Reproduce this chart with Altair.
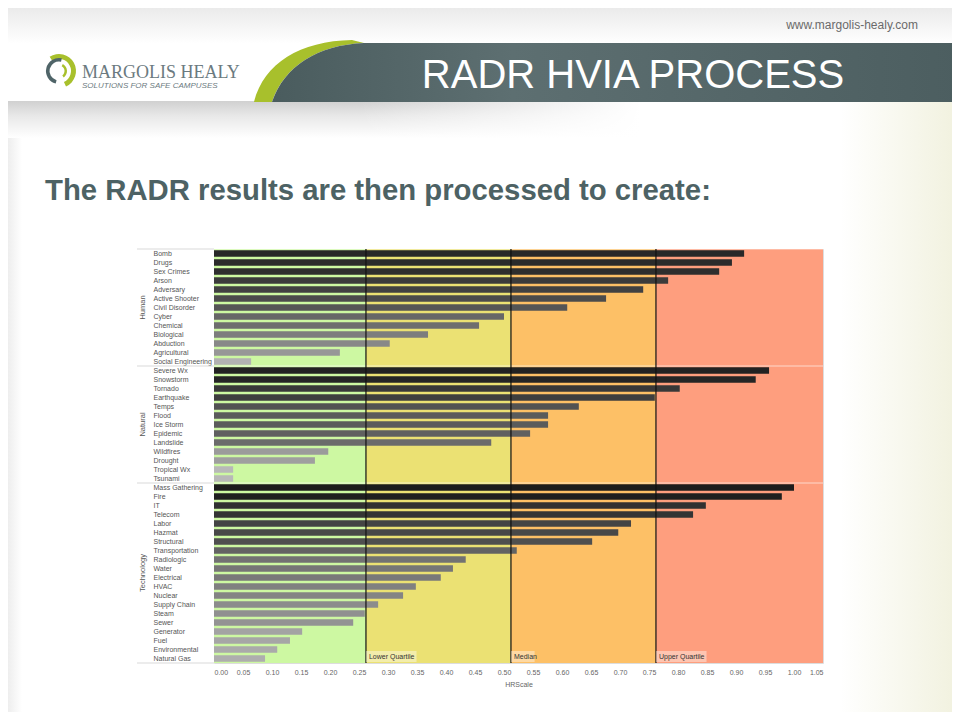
import altair as alt
import pandas as pd

# ---------------- data ----------------
groups = ["Human", "Natural", "Technology"]
human_items = ["Bomb", "Drugs", "Sex Crimes", "Arson", "Adversary", "Active Shooter",
               "Civil Disorder", "Cyber", "Chemical", "Biological", "Abduction",
               "Agricultural", "Social Engineering"]
human_values = [0.914, 0.893, 0.871, 0.783, 0.740, 0.676, 0.609, 0.500, 0.457, 0.369,
                0.303, 0.217, 0.064]
natural_items = ["Severe Wx", "Snowstorm", "Tornado", "Earthquake", "Temps", "Flood",
                 "Ice Storm", "Epidemic", "Landslide", "Wildfires", "Drought",
                 "Tropical Wx", "Tsunami"]
natural_values = [0.957, 0.934, 0.803, 0.760, 0.629, 0.576, 0.576, 0.545, 0.478, 0.197,
                  0.174, 0.033, 0.033]
tech_items = ["Mass Gathering", "Fire", "IT", "Telecom", "Labor", "Hazmat", "Structural",
              "Transportation", "Radiologic", "Water", "Electrical", "HVAC", "Nuclear",
              "Supply Chain", "Steam", "Sewer", "Generator", "Fuel", "Environmental",
              "Natural Gas"]
tech_values = [1.000, 0.979, 0.848, 0.826, 0.719, 0.697, 0.652, 0.522, 0.434, 0.412,
               0.391, 0.348, 0.326, 0.283, 0.260, 0.240, 0.152, 0.131, 0.109, 0.088]

quartile_names = ["Lower Quartile", "Median", "Upper Quartile"]
quartile_values = [0.262, 0.512, 0.762]
x_max = 1.05
zone_colors = ["#cdf8a2", "#ebe173", "#fdc066", "#fe9e7e"]
x_ticks = [0.0, 0.05, 0.1, 0.15, 0.2, 0.25, 0.3, 0.35, 0.4, 0.45, 0.5, 0.55, 0.6, 0.65,
           0.7, 0.75, 0.8, 0.85, 0.9, 0.95, 1.0, 1.05]

group_items = [human_items, natural_items, tech_items]
group_values = [human_values, natural_values, tech_values]

rows = []
for g, its, vals in zip(groups, group_items, group_values):
    for it, v in zip(its, vals):
        rows.append({"group": g, "item": it, "value": v})
df = pd.DataFrame(rows)
all_items = list(df["item"])

zones = pd.DataFrame({"start": [0.0] + quartile_values,
                      "end": quartile_values + [x_max],
                      "color": zone_colors})
quart = pd.DataFrame({"name": quartile_names, "q": quartile_values})

# ---------------- layout ----------------
OX, OY = 214, 249          # page position of plot origin
STEP = 9
W = 609
H = STEP * len(all_items)
P_IN, P_OUT = 0.28, 0.14
HALF_GAP = STEP * P_IN / 2


def px(x):
    return x - OX


def py(y):
    return y - OY


FONT = "Liberation Sans"
one = pd.DataFrame({"a": [0]})

xscale = alt.Scale(domain=[0, x_max], nice=False, zero=True)
yscale = alt.Scale(paddingInner=P_IN, paddingOuter=P_OUT)

xaxis = alt.Axis(values=x_ticks, format=".2f", labelFlush=True, domain=False,
                 ticks=False, tickSize=0, grid=False, labelFontSize=7,
                 labelColor="#666666", labelPadding=5, labelFont=FONT,
                 title="HRScale", titleFontSize=7, titleFontWeight="normal",
                 titleColor="#666666", titlePadding=5, titleFont=FONT)
yaxis = alt.Axis(labelAlign="left", labelPadding=61, ticks=False, tickSize=0,
                 domain=False, grid=False, labelFontSize=7, labelFont=FONT,
                 labelColor="#555555", title="", labelLimit=200)


def grad(stops, x1=0, y1=0, x2=0, y2=1):
    return alt.LinearGradient(
        gradient="linear", x1=x1, y1=y1, x2=x2, y2=y2,
        stops=[alt.GradientStop(offset=o, color=c) for o, c in stops])


def deco_rect(x1, y1, x2, y2, fill, **kw):
    return alt.Chart(one).mark_rect(fill=fill, **kw).encode(
        x=alt.value(px(x1)), x2=alt.value(px(x2)),
        y=alt.value(py(y1)), y2=alt.value(py(y2)))


def deco_text(x, y, text, **kw):
    return alt.Chart(one).mark_text(text=text, **kw).encode(
        x=alt.value(px(x)), y=alt.value(py(y)))


def shape_path(cmds, cx, cy, R):
    out = []
    for c, pts in cmds:
        nums = []
        for i in range(0, len(pts), 2):
            nums.append("%.4f,%.4f" % ((pts[i] - cx) / R, (pts[i + 1] - cy) / R))
        out.append(c + " ".join(nums))
    return " ".join(out) + "Z"


def deco_shape(cmds, cx, cy, R, fill):
    return alt.Chart(one).mark_point(
        shape=shape_path(cmds, cx, cy, R), size=(2 * R) ** 2, filled=True,
        fill=fill, strokeWidth=0, opacity=1).encode(
        x=alt.value(px(cx)), y=alt.value(py(cy)))


layers = []
# slide background pieces
layers.append(deco_rect(0, 0, 960, 44, grad([(0, "#e6e6e6"), (1, "#ffffff")])))
layers.append(deco_rect(0, 101, 640, 138,
                        grad([(0, "#d0d0d0"), (0.4, "#e8e8e8"), (1, "#ffffff")])))
layers.append(deco_rect(360, 100, 641, 139,
                        grad([(0, "rgba(255,255,255,0)"), (1, "#ffffff")],
                             x1=0, y1=0, x2=1, y2=0)))
layers.append(deco_rect(840, 102, 960, 720,
                        grad([(0, "#ffffff"), (1, "#f1f1de")], x1=0, y1=0, x2=1, y2=0)))
layers.append(deco_rect(0, 138, 22, 720,
                        grad([(0, "#e4e4e4"), (1, "#ffffff")], x1=0, y1=0, x2=1, y2=0)))

# header band with green swoosh
band_cx, band_cy, band_R = 610, 72, 360
layers.append(deco_shape(
    [("M", [254, 102]), ("C", [264, 63, 300, 41, 352, 40]), ("L", [364, 43]),
     ("C", [318, 45, 284, 66, 272, 102])],
    band_cx, band_cy, band_R, "#a8c02c"))
layers.append(deco_shape(
    [("M", [272, 102]), ("C", [284, 66, 318, 45, 364, 43]), ("L", [960, 43]),
     ("L", [960, 102])],
    band_cx, band_cy, band_R,
    grad([(0, "#4a5c5e"), (0.35, "#5d6f71"), (1, "#4c5e60")], x1=0, y1=0, x2=1, y2=0)))

# logo
logo_cx, logo_cy = 59, 71
layers.append(alt.Chart(one).mark_arc(radius=17, radius2=12, theta=5.7, theta2=9.0,
                                      fill="#a8c02c").encode(
    x=alt.value(px(logo_cx)), y=alt.value(py(logo_cy))))
layers.append(alt.Chart(one).mark_arc(radius=13, radius2=9.5, theta=3.4, theta2=6.5,
                                      fill="#4f6468").encode(
    x=alt.value(px(logo_cx)), y=alt.value(py(logo_cy))))
layers.append(alt.Chart(one).mark_arc(radius=8, radius2=5.5, theta=0.5, theta2=2.5,
                                      fill="#a8c02c").encode(
    x=alt.value(px(logo_cx)), y=alt.value(py(logo_cy))))
layers.append(deco_text(82, 78, "MARGOLIS HEALY", font="Liberation Serif", fontSize=18,
                        color="#6b7a80", align="left", baseline="alphabetic"))
layers.append(deco_text(82, 88, "SOLUTIONS FOR SAFE CAMPUSES", font=FONT, fontSize=8,
                        fontStyle="italic", color="#6b7a80", align="left",
                        baseline="alphabetic"))
layers.append(deco_text(918, 29, "www.margolis-healy.com", font=FONT, fontSize=12,
                        color="#6a6a6a", align="right", baseline="alphabetic"))
layers.append(deco_text(633, 88, "RADR HVIA PROCESS", font=FONT, fontSize=40,
                        color="#ffffff", align="center", baseline="alphabetic"))
layers.append(deco_text(45, 200, "The RADR results are then processed to create:",
                        font=FONT, fontSize=29.3, fontWeight="bold", color="#4d6264",
                        align="left", baseline="alphabetic"))

# ---------------- chart ----------------
zone_layer = alt.Chart(zones).mark_rect().encode(
    x=alt.X("start:Q", scale=xscale, axis=xaxis, title="HRScale"),
    x2="end:Q",
    color=alt.Color("color:N", scale=None))
layers.append(zone_layer)

first_items = pd.DataFrame({"item": [its[0] for its in group_items]})
last_item = pd.DataFrame({"item": [group_items[-1][-1]]})
layers.append(alt.Chart(first_items).mark_rule(color="#ffffff", opacity=0.6,
                                               strokeWidth=1, yOffset=-HALF_GAP).encode(
    y=alt.Y("item:N", sort=all_items, scale=yscale, bandPosition=0, axis=yaxis, title=""),
    x=alt.value(0), x2=alt.value(W)))
layers.append(alt.Chart(first_items).mark_rule(color="#d9d9d9", strokeWidth=1,
                                               yOffset=-HALF_GAP).encode(
    y=alt.Y("item:N", sort=all_items, scale=yscale, bandPosition=0, axis=yaxis, title=""),
    x=alt.value(-77), x2=alt.value(0)))
layers.append(alt.Chart(last_item).mark_rule(color="#d9d9d9", strokeWidth=1,
                                             yOffset=HALF_GAP).encode(
    y=alt.Y("item:N", sort=all_items, scale=yscale, bandPosition=1, axis=yaxis, title=""),
    x=alt.value(-77), x2=alt.value(0)))

bars = alt.Chart(df).mark_bar().encode(
    x=alt.X("value:Q", scale=xscale, axis=xaxis, title="HRScale"),
    y=alt.Y("item:N", sort=all_items, scale=yscale, axis=yaxis, title=""),
    color=alt.Color("value:Q", scale=alt.Scale(domain=[0, 1], range=["#bebebe", "#1c1c1c"]),
                    legend=None))
layers.append(bars)

layers.append(alt.Chart(quart).mark_rule(color="#111111", strokeWidth=1.2).encode(
    x=alt.X("q:Q", scale=xscale, axis=xaxis, title="HRScale")))
layers.append(alt.Chart(quart).transform_calculate(
    qe="datum.q + 0.0058 * length(datum.name) + 0.006").mark_rect(
    fill="#ffffff", opacity=0.4).encode(
    x=alt.X("q:Q", scale=xscale, axis=xaxis, title="HRScale"), x2="qe:Q",
    y=alt.value(H - 12), y2=alt.value(H - 1)))
layers.append(alt.Chart(quart).mark_text(align="left", baseline="middle", dx=3,
                                         fontSize=7, font=FONT, color="#333333").encode(
    x=alt.X("q:Q", scale=xscale, axis=xaxis, title="HRScale"),
    y=alt.value(H - 6.5),
    text="name:N"))

odd = pd.DataFrame([{"group": g, "item": its[len(its) // 2]}
                    for g, its in zip(groups, group_items) if len(its) % 2 == 1])
even = pd.DataFrame([{"group": g, "item": its[len(its) // 2]}
                     for g, its in zip(groups, group_items) if len(its) % 2 == 0])
layers.append(alt.Chart(odd).mark_text(angle=270, align="center", baseline="middle",
                                       fontSize=7.5, font=FONT, color="#555555").encode(
    y=alt.Y("item:N", sort=all_items, scale=yscale, axis=yaxis, title=""),
    x=alt.value(-71), text="group:N"))
layers.append(alt.Chart(even).mark_text(angle=270, align="center", baseline="middle",
                                        fontSize=7.5, font=FONT, color="#555555",
                                        yOffset=-HALF_GAP).encode(
    y=alt.Y("item:N", sort=all_items, scale=yscale, bandPosition=0, axis=yaxis, title=""),
    x=alt.value(-71), text="group:N"))

chart = alt.layer(*layers).properties(
    width=W, height=H,
    padding={"left": OX - 8, "top": OY - 8, "right": 952 - OX - W,
             "bottom": 712 - OY - H},
    autosize=alt.AutoSizeParams(type="none"),
).configure_view(strokeWidth=0).configure(background="white")

chart.save("out.html", embed_options={"renderer": "svg", "actions": False})
